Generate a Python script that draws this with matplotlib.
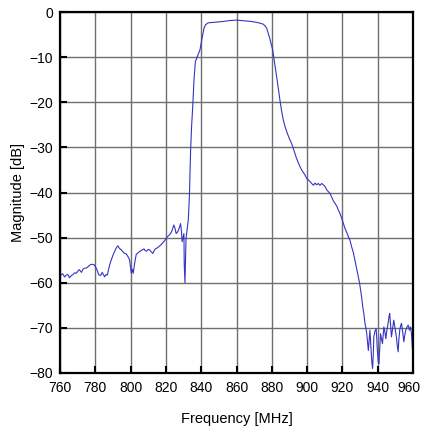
import matplotlib
matplotlib.use('Agg')
import matplotlib.pyplot as plt
import matplotlib.transforms as mtransforms

# values
freq = [760.0, 760.4, 761.5, 762.6, 763.5, 764.5, 765.4, 766.4, 767.3, 768.3,
        769.2, 770.0, 770.9, 772.2, 773.0, 773.8, 775.1, 776.0, 776.8, 778.0,
        779.3, 780.6, 781.3, 781.9, 783.0, 783.9, 785.3, 786.0, 786.8, 788.1,
        789.0, 790.0, 791.0, 792.0, 792.8, 793.7, 794.7, 795.6, 796.6, 797.5,
        798.5, 799.4, 800.4, 801.0, 801.5, 802.4, 803.2, 803.8, 805.0, 806.3,
        807.6, 808.3, 809.1, 810.0, 810.7, 811.6, 812.6, 813.3, 814.0, 815.0,
        816.0, 817.4, 818.8, 819.8, 820.8, 821.7, 822.7, 823.6, 824.5, 825.2,
        825.8, 826.5, 827.2, 827.8, 828.3, 828.8, 829.2, 829.7, 830.2, 830.4,
        830.8, 831.1, 831.4, 832.1, 832.7, 833.3, 834.0, 834.6, 835.2, 835.9,
        836.7, 837.8, 839.3, 840.3, 841.6, 842.5, 844.0, 846.8, 850.0, 852.5,
        856.0, 860.1, 863.0, 865.8, 868.5, 871.4, 873.5, 875.2, 876.2, 877.1,
        878.6, 879.6, 880.5, 881.8, 883.3, 884.6, 885.5, 886.5, 887.6, 888.8,
        890.0, 891.2, 892.5, 893.7, 895.0, 896.0, 897.2, 898.8, 899.8, 900.7,
        901.7, 902.6, 903.6, 904.5, 905.4, 906.3, 907.3, 908.3, 909.2, 910.2,
        911.1, 912.0, 913.0, 913.9, 914.9, 915.8, 916.8, 917.7, 918.6, 919.6,
        920.5, 921.5, 922.4, 923.4, 924.3, 925.2, 926.2, 927.1, 928.0, 929.0,
        929.7, 930.3, 931.0, 931.5, 932.2, 932.8, 933.3, 933.8, 934.2, 934.7,
        935.2, 935.6, 936.1, 936.6, 937.1, 937.5, 937.8, 938.4, 939.1, 939.5,
        939.8, 940.3, 940.7, 941.2, 941.6, 942.2, 942.7, 943.1, 943.5, 944.1,
        944.6, 945.2, 945.9, 946.4, 946.8, 947.3, 947.8, 948.5, 949.1, 949.8,
        950.6, 951.1, 951.6, 952.0, 952.5, 953.0, 953.5, 954.2, 954.8, 955.4,
        955.9, 956.6, 957.3, 958.0, 958.6, 959.2, 959.7, 960.0]
mag = [-58.5, -58.3, -58.0, -58.7, -58.3, -58.2, -58.9, -58.4, -58.2, -57.8,
       -57.9, -57.5, -57.1, -57.7, -57.0, -56.8, -56.7, -56.4, -56.1, -55.9,
       -56.0, -56.8, -57.5, -58.2, -58.4, -57.7, -58.7, -58.2, -58.3, -56.1,
       -55.0, -53.9, -53.0, -52.2, -51.8, -52.4, -52.7, -53.1, -53.5, -53.6,
       -54.2, -54.9, -57.9, -57.0, -57.9, -55.4, -53.7, -53.5, -53.1, -52.8,
       -52.5, -52.9, -53.0, -52.6, -52.7, -53.1, -53.5, -52.9, -52.5, -52.3,
       -52.0, -51.5, -50.9, -50.4, -49.8, -49.5, -49.1, -48.3, -47.2, -48.0,
       -49.1, -48.8, -48.3, -47.5, -46.9, -48.5, -50.9, -50.0, -49.1, -56.0,
       -60.0, -55.0, -50.2, -48.0, -46.0, -41.0, -30.6, -25.0, -21.0, -15.1,
       -11.0, -9.9, -8.4, -6.2, -3.6, -2.8, -2.4, -2.3, -2.2, -2.1,
       -1.9, -1.8, -1.9, -2.0, -2.1, -2.3, -2.5, -2.7, -3.1, -3.6,
       -5.5, -7.0, -8.4, -11.8, -15.8, -19.5, -21.8, -23.9, -25.5, -26.9,
       -28.1, -29.1, -30.6, -32.1, -33.4, -34.3, -35.2, -36.1, -36.9, -37.2,
       -37.6, -38.0, -38.4, -37.9, -38.3, -38.0, -38.4, -38.0, -38.3, -38.7,
       -39.4, -39.8, -40.2, -41.0, -41.9, -42.4, -43.0, -43.9, -44.6, -45.7,
       -46.8, -48.0, -48.8, -49.8, -50.6, -52.0, -53.3, -55.0, -56.7, -58.7,
       -60.0, -61.6, -63.5, -65.3, -67.0, -69.0, -70.0, -71.3, -73.0, -75.0,
       -72.5, -70.5, -74.0, -77.2, -79.0, -76.0, -72.0, -70.8, -70.2, -72.5,
       -75.0, -77.5, -77.9, -74.0, -71.3, -72.5, -73.5, -71.5, -69.8, -71.0,
       -72.4, -70.5, -69.0, -67.5, -66.8, -69.5, -72.0, -70.0, -68.3, -70.0,
       -72.0, -74.0, -75.3, -72.5, -70.5, -69.5, -69.0, -71.0, -73.1, -71.5,
       -70.5, -69.8, -69.4, -70.5, -69.8, -71.5, -75.0, -74.0]

xticks = list(range(760, 961, 20))
yticks = list(range(-80, 1, 10))

plt.rcParams['font.family'] = ['Liberation Sans', 'DejaVu Sans']

fig = plt.figure(figsize=(4.22, 4.29), dpi=100)
ax = fig.add_axes([60/422, 1 - 373/429, 353/422, 361/429])

ax.plot(freq, mag, color='#3434c4', lw=0.8)

ax.set_xlim(760, 960)
ax.set_ylim(-80, 0)
ax.set_xticks(xticks)
ax.set_yticks(yticks)
ax.grid(True, color='#6e6e6e', lw=1)
ax.set_axisbelow(True)

for s in ax.spines.values():
    s.set_color('black')
    s.set_linewidth(1.6)

ax.tick_params(direction='in', length=5, width=1.5, labelsize=10)
ax.tick_params(axis='x', pad=6)
ax.tick_params(axis='y', pad=5)
ax.set_xlabel('Frequency [MHz]', fontsize=10.5, labelpad=12)
ax.set_ylabel('Magnitude [dB]', fontsize=10.5, labelpad=3)

# nudge the last x label so it stays inside the canvas
fig.canvas.draw()
last = ax.get_xticklabels()[-1]
last.set_transform(last.get_transform() +
                   mtransforms.ScaledTranslation(-4/100, 0, fig.dpi_scale_trans))

fig.savefig('out.png', dpi=100)
